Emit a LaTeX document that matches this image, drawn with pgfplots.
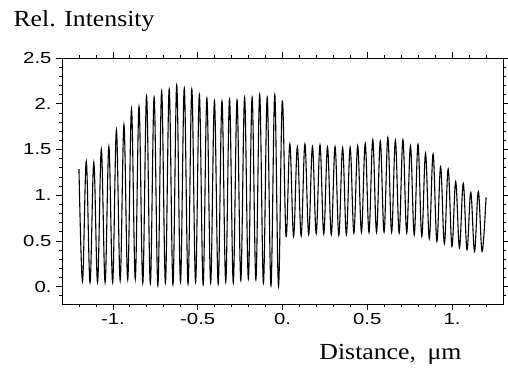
\documentclass[border=0pt]{standalone}
\usepackage{fontspec}
\setmainfont{Liberation Serif}
\newfontfamily\ticksf{Liberation Sans}
\usepackage{pgfplots}
\pgfplotsset{compat=1.18}
\usepackage{pgfplotstable}
\newcommand{\tl}[1]{\scalebox{1.27}[1]{#1}}
\pgfplotstableread{
x y
-1.2000 1.285
-1.1792 0.058
-1.1570 1.37
-1.1348 0.047
-1.1125 1.36
-1.0903 0.047
-1.0681 1.50
-1.0459 0.047
-1.0236 1.53
-1.0014 0.047
-0.9792 1.71
-0.9570 0.069
-0.9347 1.77
-0.9125 0.076
-0.8903 1.94
-0.8681 0.084
-0.8458 1.97
-0.8236 0.040
-0.8014 2.085
-0.7792 0.033
-0.7569 2.07
-0.7347 0.011
-0.7125 2.14
-0.6903 0.040
-0.6680 2.16
-0.6458 0.022
-0.6236 2.205
-0.6014 0.047
-0.5791 2.17
-0.5569 0.029
-0.5347 2.16
-0.5125 0.047
-0.4902 2.10
-0.4680 0.022
-0.4458 2.06
-0.4236 0.040
-0.4013 2.03
-0.3791 0.029
-0.3569 2.03
-0.3347 0.047
-0.3124 2.05
-0.2902 0.040
-0.2680 2.04
-0.2458 0.069
-0.2235 2.07
-0.2013 0.084
-0.1791 2.07
-0.1569 0.076
-0.1346 2.10
-0.1124 0.040
-0.0902 2.07
-0.0680 0.011
-0.0457 2.10
-0.0235 0.004
-0.0013 2.03
0.0210 0.549
0.0432 1.56
0.0654 0.549
0.0876 1.53
0.1099 0.555
0.1321 1.56
0.1543 0.568
0.1765 1.53
0.1988 0.580
0.2210 1.55
0.2432 0.577
0.2654 1.525
0.2877 0.568
0.3099 1.53
0.3321 0.562
0.3544 1.52
0.3766 0.568
0.3988 1.525
0.4210 0.586
0.4433 1.54
0.4655 0.593
0.4877 1.565
0.5099 0.593
0.5322 1.605
0.5544 0.593
0.5766 1.59
0.5988 0.597
0.6211 1.63
0.6433 0.593
0.6655 1.60
0.6877 0.586
0.7100 1.605
0.7322 0.586
0.7544 1.54
0.7766 0.568
0.7989 1.555
0.8211 0.549
0.8433 1.46
0.8655 0.524
0.8878 1.45
0.9100 0.495
0.9322 1.31
0.9544 0.469
0.9767 1.285
0.9989 0.440
1.0211 1.15
1.0433 0.422
1.0656 1.13
1.0878 0.404
1.1100 1.03
1.1322 0.385
1.1545 1.04
1.1767 0.385
1.2000 0.975
}\signal

\begin{document}
\begin{tikzpicture}
\begin{axis}[
  scale only axis, width=441pt, height=246pt,
  xmin=-1.3, xmax=1.3, ymin=-0.19, ymax=2.5,
  axis line style={line width=0.7pt},
  tick align=outside,
  tick style={black, line width=0.7pt},
  major tick length=6pt, minor tick length=3pt,
  xtick={-1,-0.5,0,0.5,1},
  xticklabels={\tl{-1.},\tl{-0.5},\tl{0.},\tl{0.5},\tl{1.}},
  minor xtick={-1.2,-1.1,-0.9,-0.8,-0.7,-0.6,-0.4,-0.3,-0.2,-0.1,0.1,0.2,0.3,0.4,0.6,0.7,0.8,0.9,1.1,1.2},
  ytick={0,0.5,1,1.5,2,2.5},
  yticklabels={\tl{0.},\tl{0.5},\tl{1.},\tl{1.5},\tl{2.},\tl{2.5}},
  minor ytick={-0.1,0.1,0.2,0.3,0.4,0.6,0.7,0.8,0.9,1.1,1.2,1.3,1.4,1.6,1.7,1.8,1.9,2.1,2.2,2.3,2.4},
  tick label style={font=\ticksf\fontsize{16}{16}\selectfont},
  yticklabel style={xshift=-1pt},
]
\addplot[black, line width=1.1pt, smooth, tension=0.6] table {\signal};
\end{axis}
\node[anchor=base west, font=\fontsize{23}{23}\selectfont] at (-52pt,277pt) {\scalebox{1.12}[1]{Rel. Intensity}};
\node[anchor=base east, font=\fontsize{23}{23}\selectfont] at (403pt,-55pt) {\scalebox{1.12}[1]{Distance,\hspace{0.45em}μm}};
\pgfresetboundingbox
\path[use as bounding box] (-62pt,-65pt) rectangle (446pt,304pt);
\end{tikzpicture}
\end{document}
